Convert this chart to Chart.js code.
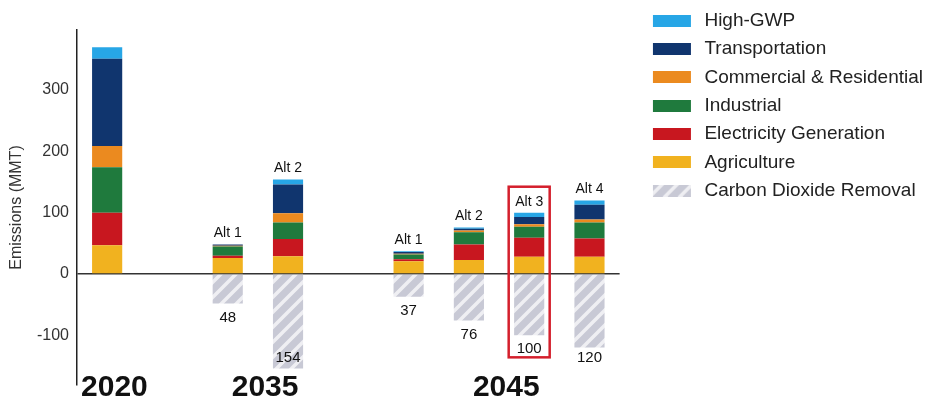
<!DOCTYPE html>
<html>
<head>
<meta charset="utf-8">
<script src="https://cdn.jsdelivr.net/npm/chart.js@4.4.1/dist/chart.umd.min.js"></script>
<style>
  html, body { margin: 0; padding: 0; background: #fff; }
  #wrap { width: 933px; height: 397px; position: relative; }
</style>
</head>
<body>
<div id="wrap"><canvas id="emissions"></canvas></div>
<script>
// bars, left to right (empty slots are the gaps between year groups)
var categories = ['2020', '', '2035 Alt 1', '2035 Alt 2', '', '2045 Alt 1', '2045 Alt 2', '2045 Alt 3', '2045 Alt 4'];
var altLabels = ['', '', 'Alt 1', 'Alt 2', '', 'Alt 1', 'Alt 2', 'Alt 3', 'Alt 4'];
var years = ['2020', '2035', '2045'];
var yearBars = [[0], [2, 3], [5, 6, 7, 8]];

// emissions by sector (MMT)
var agriculture    = [47, null, 26, 29, null, 21, 23, 28, 28];
var electricity    = [53, null, 4, 28, null, 3, 25, 31, 30];
var industrial     = [74, null, 15, 27, null, 8, 20, 18, 26];
var commercial     = [35, null, 1, 15, null, 1, 3, 4, 5];
var transportation = [142, null, 2, 47, null, 3, 3, 12, 24];
var highGwp        = [19, null, 0, 8, null, 1, 2, 7, 7];
var cdr            = [null, null, 48, 154, null, 37, 76, 100, 120];

var yTicks = [-100, 0, 100, 200, 300];
var highlightBar = 7;

var FONT = '"Liberation Sans", Arial, Helvetica, sans-serif';
Chart.defaults.font.family = FONT;

function hatch(g) {
  var c = document.createElement('canvas');
  c.width = 15; c.height = 15;
  var h = c.getContext('2d');
  h.fillStyle = '#c8c9d5';
  h.fillRect(0, 0, 15, 15);
  h.strokeStyle = '#efeff3';
  h.lineWidth = 3.5;
  h.beginPath();
  h.moveTo(-8, 8); h.lineTo(8, -8);
  h.moveTo(0, 15); h.lineTo(15, 0);
  h.moveTo(7, 23); h.lineTo(23, 7);
  h.stroke();
  return g.createPattern(c, 'repeat');
}

// legend swatch: 38x12 box sitting in the right part of a wider transparent image
function swatch(color, hatched) {
  var c = document.createElement('canvas');
  c.width = 60; c.height = 12;
  var g = c.getContext('2d');
  g.fillStyle = hatched ? hatch(g) : color;
  g.fillRect(21, 0, 38, 12);
  return c;
}

var canvas = document.getElementById('emissions');
var ctx = canvas.getContext('2d');
var cdrFill = hatch(ctx);

var series = [
  { label: 'Carbon Dioxide Removal', data: cdr.map(function (v) { return v == null ? null : -v; }), color: cdrFill, hatched: true },
  { label: 'Agriculture', data: agriculture, color: '#f1b21f' },
  { label: 'Electricity Generation', data: electricity, color: '#c8171f' },
  { label: 'Industrial', data: industrial, color: '#1f7a3d' },
  { label: 'Commercial & Residential', data: commercial, color: '#eb8a1f' },
  { label: 'Transportation', data: transportation, color: '#10356e' },
  { label: 'High-GWP', data: highGwp, color: '#27a6e6' }
];
var swatches = series.map(function (s) { return swatch(s.color, s.hatched); });

var totals = categories.map(function (c, i) {
  return (agriculture[i] || 0) + (electricity[i] || 0) + (industrial[i] || 0) +
         (commercial[i] || 0) + (transportation[i] || 0) + (highGwp[i] || 0);
});

var annotate = {
  id: 'annotate',
  afterDatasetsDraw: function (chart) {
    var g = chart.ctx, x = chart.scales.x, y = chart.scales.y, area = chart.chartArea;
    var slot = x.width / categories.length;
    g.save();
    g.fillStyle = '#111';
    g.textAlign = 'center';
    g.textBaseline = 'middle';
    categories.forEach(function (c, i) {
      var cx = x.getPixelForValue(i);
      if (altLabels[i]) {
        g.font = '14px ' + FONT;
        g.fillText(altLabels[i], cx, y.getPixelForValue(totals[i]) - 11);
      }
      if (cdr[i]) {
        var ly = Math.min(y.getPixelForValue(-cdr[i]) + 14, area.bottom - 27);
        g.font = '15px ' + FONT;
        g.fillText(String(cdr[i]), cx, ly);
        if (i === highlightBar) {
          var top = y.getPixelForValue(totals[i]) - 26;
          g.strokeStyle = '#d41f2c';
          g.lineWidth = 2.5;
          g.strokeRect(cx - slot * 0.34, top, slot * 0.68, ly + 8 - top);
        }
      }
    });
    g.font = 'bold 30px ' + FONT;
    g.textBaseline = 'alphabetic';
    years.forEach(function (yr, k) {
      var sum = 0;
      yearBars[k].forEach(function (i) { sum += x.getPixelForValue(i); });
      g.fillText(yr, sum / yearBars[k].length + slot * 0.12, chart.height - 1);
    });
    g.restore();
  }
};

new Chart(canvas, {
  type: 'bar',
  data: {
    labels: categories,
    datasets: series.map(function (s) {
      return { label: s.label, data: s.data, backgroundColor: s.color, borderWidth: 0 };
    })
  },
  options: {
    responsive: true,
    maintainAspectRatio: false,
    animation: false,
    datasets: { bar: { barPercentage: 0.5, categoryPercentage: 1 } },
    layout: { padding: { top: 2, left: 0, right: 0, bottom: 0 } },
    plugins: {
      tooltip: { enabled: false },
      legend: {
        position: 'right',
        align: 'start',
        reverse: true,
        maxWidth: 330,
        labels: {
          usePointStyle: true,
          pointStyleWidth: 66,
          padding: 9.3,
          color: '#222',
          font: { size: 19 },
          generateLabels: function (chart) {
            var items = Chart.defaults.plugins.legend.labels.generateLabels(chart);
            items.forEach(function (it) { it.pointStyle = swatches[it.datasetIndex]; });
            return items;
          }
        }
      }
    },
    scales: {
      x: {
        stacked: true,
        grid: { display: false },
        border: { display: false },
        ticks: { display: false },
        afterFit: function (s) { s.height = 12; }
      },
      xTop: {
        type: 'category',
        position: 'top',
        grid: { display: false },
        border: { display: false },
        ticks: { display: false },
        afterFit: function (s) { s.height = 28; }
      },
      y: {
        stacked: true,
        min: -181,
        max: 398,
        afterBuildTicks: function (s) {
          s.ticks = yTicks.map(function (v) { return { value: v }; });
        },
        afterFit: function (s) {
          s.width = 77;
          s.paddingTop = 0;
          s.paddingBottom = 0;
        },
        border: { display: true, color: '#222', width: 1.5 },
        grid: {
          drawTicks: false,
          lineWidth: 1.5,
          color: function (c) { return c.tick && c.tick.value === 0 ? '#333' : 'rgba(0,0,0,0)'; }
        },
        ticks: { padding: 8, color: '#333', font: { size: 16 } },
        title: {
          display: true,
          text: 'Emissions (MMT)',
          color: '#333',
          font: { size: 16 },
          padding: { top: 7, bottom: 0 }
        }
      }
    }
  },
  plugins: [annotate]
});
</script>
</body>
</html>
